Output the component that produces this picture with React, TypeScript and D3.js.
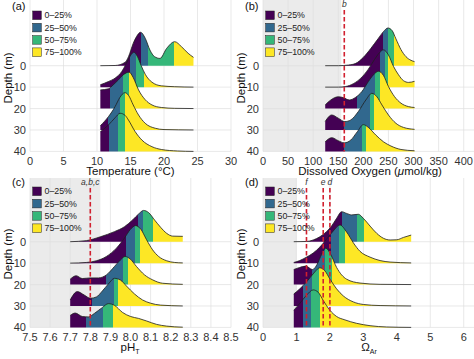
import React from 'react';
import * as d3 from 'd3';

type Pt = [number, number];

const depths = [0, 10, 20, 30, 40];
const quartileNames = ['0–25%', '25–50%', '50–75%', '75–100%'];
const viridis = ['#440154', '#31688e', '#35b779', '#fde725'];

// (a) temperature, one ridge per depth: [value, relative density]
const tempRidges: Pt[][] = [
  [[10.5, 0], [12.7, 0.01], [14.2, 0.16], [14.7, 0.42], [15.4, 1.04], [15.9, 1.36], [16.5, 1.56], [17.2, 1.28], [17.9, 0.73], [18.6, 0.42], [19.4, 0.34], [20.4, 0.81], [21.6, 1.12], [22.6, 0.89], [23.6, 0.58], [24.4, 0.39]],
  [[10.5, 0.11], [11.7, 0.26], [12.7, 0.42], [13.7, 0.73], [14.2, 1.0], [14.7, 1.3], [15.1, 1.52], [15.5, 1.63], [16.0, 1.45], [16.6, 1.0], [17.2, 0.6], [18.2, 0.23], [19.6, 0.06], [21.6, 0.02], [24.4, 0]],
  [[10.5, 0.87], [11.7, 0.92], [12.4, 1.1], [13.2, 1.34], [13.9, 1.57], [14.8, 1.7], [15.4, 1.45], [16.2, 0.87], [17.2, 0.41], [18.2, 0.17], [19.6, 0.05], [21.6, 0.01], [24.4, 0]],
  [[10.5, 0.2], [11.7, 0.62], [12.7, 1.09], [13.4, 1.51], [14.15, 1.74], [14.7, 1.62], [15.4, 1.17], [16.2, 0.7], [17.2, 0.31], [18.7, 0.08], [20, 0.02], [24.4, 0]],
  [[10.5, 0.92], [11.7, 1.23], [12.7, 1.57], [13.45, 1.78], [14.2, 1.68], [14.7, 1.46], [15.7, 0.92], [16.7, 0.53], [18.2, 0.22], [19.6, 0.09], [22, 0.02], [24.4, 0]],
];
const tempQuartiles = [
  [16.6, 17.6, 21.5],
  [14.9, 15.8, 17.0],
  [12.0, 13.9, 14.75],
  [11.7, 13.4, 14.2],
  [11.8, 13.15, 14.2],
];
const tempTicks = [0, 5, 10, 15, 20, 25, 30];

// (b) dissolved oxygen
const oxyRidges: Pt[][] = [
  [[124, 0], [150, 0], [170, 0.03], [185, 0.11], [200, 0.39], [215, 0.81], [230, 1.28], [240, 1.59], [249, 1.76], [257, 1.65], [265, 1.25], [275, 0.75], [285, 0.42], [295, 0.25], [302, 0.19]],
  [[124, 0], [150, 0], [165, 0.03], [180, 0.16], [195, 0.42], [210, 0.84], [222, 1.28], [232, 1.6], [240, 1.74], [250, 1.5], [260, 0.97], [270, 0.58], [280, 0.3], [290, 0.22], [302, 0.27]],
  [[124, 0.17], [135, 0.4], [150, 0.55], [160, 0.51], [172, 0.4], [185, 0.53], [197, 0.79], [210, 1.26], [220, 1.57], [230, 1.74], [240, 1.55], [250, 1.03], [262, 0.56], [275, 0.25], [290, 0.09], [302, 0.05]],
  [[124, 0.4], [137, 0.7], [150, 0.55], [163, 0.39], [175, 0.47], [190, 0.86], [205, 1.4], [217, 1.71], [227, 1.55], [237, 1.17], [250, 0.7], [265, 0.31], [280, 0.12], [302, 0.03]],
  [[124, 0.45], [137, 0.64], [150, 0.5], [162, 0.4], [175, 0.53], [188, 0.92], [200, 1.25], [210, 1.12], [225, 0.76], [240, 0.45], [255, 0.25], [275, 0.09], [302, 0.03]],
];
const oxyQuartiles = [
  [240, 250, 262],
  [233, 243, 250],
  [187, 224, 233],
  [162, 213, 221],
  [162, 197, 206],
];
const oxyTicks = [0, 50, 100, 150, 200, 250, 300, 350, 400];

// (c) pH (total scale)
const phRidges: Pt[][] = [
  [[7.7, 0], [7.78, 0.05], [7.85, 0.23], [7.92, 0.47], [7.97, 0.7], [8.01, 1.01], [8.04, 1.29], [8.065, 1.46], [8.09, 1.36], [8.12, 1.01], [8.15, 0.67], [8.18, 0.39], [8.21, 0.26], [8.26, 0.25]],
  [[7.7, 0], [7.78, 0.03], [7.83, 0.11], [7.88, 0.31], [7.93, 0.7], [7.97, 1.17], [8.0, 1.58], [8.025, 1.75], [8.05, 1.6], [8.08, 1.09], [8.11, 0.62], [8.14, 0.31], [8.18, 0.11], [8.22, 0.03], [8.26, 0.01]],
  [[7.7, 0.25], [7.73, 0.41], [7.76, 0.28], [7.8, 0.31], [7.84, 0.31], [7.88, 0.45], [7.92, 0.84], [7.95, 1.15], [7.973, 1.31], [8.0, 1.18], [8.03, 0.84], [8.07, 0.45], [8.11, 0.22], [8.16, 0.06], [8.26, 0.01]],
  [[7.7, 0.28], [7.735, 0.67], [7.77, 0.51], [7.8, 0.36], [7.83, 0.42], [7.86, 0.7], [7.89, 1.03], [7.92, 1.29], [7.95, 1.21], [7.98, 0.93], [8.02, 0.56], [8.06, 0.28], [8.1, 0.13], [8.15, 0.04], [8.26, 0]],
  [[7.7, 0.56], [7.725, 0.67], [7.76, 0.51], [7.79, 0.49], [7.82, 0.65], [7.86, 0.93], [7.89, 1.11], [7.92, 1.03], [7.96, 0.7], [8.0, 0.51], [8.04, 0.42], [8.08, 0.3], [8.13, 0.14], [8.18, 0.06], [8.26, 0.01]],
];
const phQuartiles = [
  [8.035, 8.063, 8.113],
  [7.98, 8.02, 8.045],
  [7.878, 7.965, 7.99],
  [7.806, 7.918, 7.94],
  [7.778, 7.865, 7.915],
];
const phTicks = [7.5, 7.6, 7.7, 7.8, 7.9, 8.0, 8.1, 8.2, 8.3, 8.4, 8.5];

// (d) aragonite saturation state
const omegaRidges: Pt[][] = [
  [[0.92, 0], [1.3, 0.01], [1.5, 0.08], [1.7, 0.23], [1.9, 0.47], [2.05, 0.73], [2.2, 1.09], [2.35, 1.4], [2.5, 1.32], [2.65, 1.25], [2.85, 1.28], [3.0, 1.09], [3.2, 0.73], [3.4, 0.39], [3.6, 0.16], [3.8, 0.08], [4.0, 0.09], [4.2, 0.2], [4.43, 0.31]],
  [[0.92, 0.03], [1.1, 0.12], [1.3, 0.28], [1.5, 0.47], [1.7, 0.75], [1.9, 1.12], [2.1, 1.5], [2.3, 1.78], [2.5, 1.45], [2.7, 0.95], [2.9, 0.55], [3.2, 0.28], [3.5, 0.12], [3.8, 0.05], [4.43, 0.01]],
  [[0.92, 0.7], [1.1, 0.8], [1.28, 0.86], [1.48, 0.7], [1.62, 0.95], [1.75, 1.4], [1.88, 1.7], [2.02, 1.42], [2.2, 0.8], [2.5, 0.25], [2.9, 0.07], [3.5, 0.01], [4.43, 0]],
  [[0.92, 0.56], [1.1, 0.8], [1.3, 1.12], [1.5, 1.5], [1.7, 1.78], [1.85, 1.64], [2.0, 1.26], [2.2, 0.8], [2.4, 0.47], [2.7, 0.19], [3.0, 0.07], [3.5, 0.02], [4.43, 0]],
  [[0.92, 0.8], [1.1, 1.12], [1.3, 1.5], [1.5, 1.75], [1.65, 1.64], [1.8, 1.26], [2.0, 0.8], [2.2, 0.51], [2.45, 0.35], [2.8, 0.19], [3.2, 0.08], [3.7, 0.02], [4.43, 0]],
];
const omegaQuartiles = [
  [2.35, 2.8, 3.02],
  [2.03, 2.26, 2.46],
  [1.46, 1.85, 2.05],
  [1.21, 1.46, 1.68],
  [1.19, 1.43, 1.7],
];
const omegaTicks = [0, 1, 2, 3, 4, 5, 6];

// shaded region upper bounds and threshold lines
const oxyShade = 156;
const phShade = 7.85;
const omegaShade = 1.0;
const oxyRefs = [{ v: 162, label: 'b' }];
const phRefs = [{ v: 7.8, label: 'a,b,c' }];
const omegaRefs = [{ v: 1.3, label: 'f' }, { v: 1.8, label: 'e' }, { v: 2.0, label: 'd' }];

const FONT = '"Liberation Sans", Arial, Helvetica, sans-serif';

type PanelProps = {
  id: string;
  tag: string;
  left: number;
  right: number;
  plotRight: number;
  top: number;
  plotTop: number;
  domain: [number, number];
  ticks: number[];
  fmt: (v: number) => string;
  ridges: Pt[][];
  quartiles: number[][];
  shade?: number;
  refs: { v: number; label: string }[];
  title: React.ReactNode;
  titleX: number;
};

function Panel(p: PanelProps) {
  const x = d3.scaleLinear().domain(p.domain).range([p.left, p.right]);
  const y = d3.scaleLinear().domain([0, 40]).range([p.top + 65.7, p.top + 151.4]);
  const step = y(10) - y(0);
  const bottom = y(40);

  return (
    <g>
      {p.shade !== undefined && (
        <rect x={p.left} y={p.plotTop} width={x(p.shade) - p.left} height={bottom - p.plotTop} fill="#ebebeb" />
      )}
      {p.ticks.map(t => (
        <line key={'gx' + t} x1={x(t)} x2={x(t)} y1={p.plotTop} y2={bottom} stroke="#e0e0e0" strokeWidth={0.7} />
      ))}
      {depths.map(d => (
        <line key={'gy' + d} x1={p.left} x2={p.plotRight} y1={y(d)} y2={y(d)} stroke="#e0e0e0" strokeWidth={0.7} />
      ))}

      <defs>
        {p.ridges.map((pts, i) => {
          const x1 = x(pts[0][0]);
          const x2 = x(pts[pts.length - 1][0]);
          const off = (v: number) => Math.max(0, Math.min(1, (x(v) - x1) / (x2 - x1)));
          const cuts = [0, ...p.quartiles[i].map(off), 1];
          return (
            <linearGradient key={i} id={`${p.id}-g${i}`} gradientUnits="userSpaceOnUse" x1={x1} x2={x2} y1={0} y2={0}>
              {viridis.map((c, k) => (
                <React.Fragment key={k}>
                  <stop offset={cuts[k]} stopColor={c} />
                  <stop offset={cuts[k + 1]} stopColor={c} />
                </React.Fragment>
              ))}
            </linearGradient>
          );
        })}
      </defs>

      {p.ridges.map((pts, i) => {
        const base = y(depths[i]);
        const area = d3.area<Pt>()
          .x(d => x(d[0]))
          .y0(base)
          .y1(d => base - d[1] * step)
          .curve(d3.curveMonotoneX);
        const line = d3.line<Pt>()
          .x(d => x(d[0]))
          .y(d => base - d[1] * step)
          .curve(d3.curveMonotoneX);
        return (
          <g key={'r' + i}>
            <path d={area(pts) || ''} fill={`url(#${p.id}-g${i})`} />
            <path d={line(pts) || ''} fill="none" stroke="#1e1e1e" strokeWidth={0.8} />
          </g>
        );
      })}

      {p.refs.map(r => (
        <g key={'ref' + r.label}>
          <line x1={x(r.v)} x2={x(r.v)} y1={p.plotTop + 10} y2={bottom} stroke="#d1202f" strokeWidth={1.6} strokeDasharray="4.5,2.5" />
          <text x={x(r.v)} y={p.plotTop + 7} textAnchor="middle" fontSize={8.5} fontStyle="italic" fill="#333">{r.label}</text>
        </g>
      ))}

      {/* legend */}
      {quartileNames.map((n, k) => {
        const cy = p.top + 15.3 + k * 12.3;
        return (
          <g key={'lg' + k}>
            <rect x={p.left + 2.7} y={cy - 4.3} width={8.6} height={8.6} fill={viridis[k]} stroke="#222" strokeWidth={0.5} />
            <text x={p.left + 14.5} y={cy} dominantBaseline="central" fontSize={8.8} fill="#222">{n}</text>
          </g>
        );
      })}

      {/* axes */}
      {depths.map(d => (
        <text key={'yl' + d} x={p.left - 4} y={y(d)} textAnchor="end" dominantBaseline="central" fontSize={11} fill="#333">{d}</text>
      ))}
      {p.ticks.map(t => (
        <text key={'xl' + t} x={x(t)} y={p.top + 164.8} textAnchor="middle" fontSize={11} fill="#333">{p.fmt(t)}</text>
      ))}
      <text x={p.titleX} y={p.top + 175.3} textAnchor="middle" fontSize={11.5} fill="#111">{p.title}</text>
      <text transform={`translate(${p.left - 22.5},${p.top + 78}) rotate(-90)`} textAnchor="middle" dominantBaseline="central" fontSize={11.5} fill="#111">Depth (m)</text>
      <text x={p.left - 18} y={p.top + 10} fontSize={11} fill="#111">{p.tag}</text>
    </g>
  );
}

export default function App() {
  const intFmt = d3.format('d');
  const phFmt = d3.format('.1f');
  return (
    <svg width={474} height={359} style={{ position: 'absolute', left: 0, top: 0, background: '#fff' }} fontFamily={FONT}>
      <rect width={474} height={359} fill="#fff" />
      <Panel id="a" tag="(a)" left={30} right={231} plotRight={231} top={0} plotTop={0} domain={[0, 30]}
        ticks={tempTicks} fmt={intFmt} ridges={tempRidges} quartiles={tempQuartiles} refs={[]}
        title="Temperature (°C)" titleX={130.5} />
      <Panel id="b" tag="(b)" left={263} right={463.7} plotRight={474} top={0} plotTop={0} domain={[0, 400]}
        ticks={oxyTicks} fmt={intFmt} ridges={oxyRidges} quartiles={oxyQuartiles} shade={oxyShade} refs={oxyRefs}
        title={<>Dissolved Oxygen (<tspan fontStyle="italic">μ</tspan>mol/kg)</>} titleX={370} />
      <Panel id="c" tag="(c)" left={30} right={231} plotRight={231} top={176} plotTop={178} domain={[7.5, 8.5]}
        ticks={phTicks} fmt={phFmt} ridges={phRidges} quartiles={phQuartiles} shade={phShade} refs={phRefs}
        title={<>pH<tspan fontSize={7} dy={3}>T</tspan></>} titleX={130} />
      <Panel id="d" tag="(d)" left={263} right={463.7} plotRight={474} top={176} plotTop={178} domain={[0, 6]}
        ticks={omegaTicks} fmt={intFmt} ridges={omegaRidges} quartiles={omegaQuartiles} shade={omegaShade} refs={omegaRefs}
        title={<>Ω<tspan fontSize={7} dy={3}>Ar</tspan></>} titleX={369} />
    </svg>
  );
}
